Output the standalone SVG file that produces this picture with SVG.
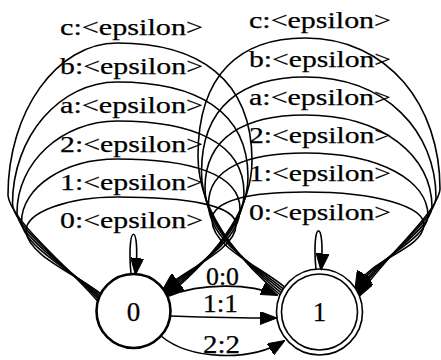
<svg xmlns="http://www.w3.org/2000/svg" width="441" height="360" viewBox="0 0 441 360">
<defs>
<style>
.e{fill:none;stroke:#000;stroke-width:1.6}
.lbl{font-family:"Liberation Serif","Times New Roman",serif;font-size:24px;fill:#000;stroke:#000;stroke-width:0.25}
.el{font-family:"Liberation Serif","Times New Roman",serif;font-size:25px;fill:#000;stroke:#000;stroke-width:0.25}
.nl{font-family:"Liberation Serif","Times New Roman",serif;font-size:27px;fill:#000;text-anchor:middle;stroke:#000;stroke-width:0.25}
</style>
<marker id="arr" markerUnits="userSpaceOnUse" viewBox="0 0 17 13" markerWidth="17" markerHeight="13" refX="16" refY="6.5" orient="auto">
<path d="M0,0 L17,6.5 L0,13 z" fill="#000" stroke="#000" stroke-width="1"/>
</marker>
</defs>
<rect width="441" height="360" fill="#fff"/>
<g id="edges">
<!-- self loops on node 0 -->
<path class="e" marker-end="url(#arr)" d="M131,274 C126,221 141,221 135.5,274"/>
<path class="e" marker-end="url(#arr)" d="M100.3,293.6 C78,274.8 28,256 26,231 C26,212.3 67,197 117,197 C188.4,197 236,205.4 236,225 C236,249 187.7,268.7 163.7,288.7"/>
<path class="e" marker-end="url(#arr)" d="M99.5,295.4 C76.1,273.4 23.5,247 21.5,222 C21.5,187.4 64.5,159 117,159 C190.8,159 240,174 240,209 C240,242.6 188.9,270.3 164.9,290.3"/>
<path class="e" marker-end="url(#arr)" d="M98.7,297.1 C74.2,271.9 19,238 17,213 C17,162.4 62,121 117,121 C193.2,121 244,142.6 244,193 C244,236.2 189.9,272 165.9,292"/>
<path class="e" marker-end="url(#arr)" d="M98,298.9 C72.4,270.4 14.5,229 12.5,204 C12.5,136.9 59.5,82 117,82 C195.6,82 248,110.5 248,177 C248,229.8 190.9,273.7 166.9,293.7"/>
<path class="e" marker-end="url(#arr)" d="M97.4,300.8 C70.6,269.1 10,220 8,195 C8,111.4 57,43 117,43 C198,43 252,78.4 252,161 C252,223.4 191.7,275.5 167.7,295.5"/>
<!-- self loops on node 1 -->
<path class="e" marker-end="url(#arr)" d="M316,269.5 C311,218 326,218 321,269.5"/>
<path class="e" marker-end="url(#arr)" d="M284.2,286.7 C260.2,266.7 212,247 212,220 C212,200.4 249.2,192 305,192 C378.8,192 424,206.9 424,225 C422,250 371.5,257.4 355.5,287.4"/>
<path class="e" marker-end="url(#arr)" d="M282.9,288.6 C258.9,268.6 208.5,240.6 208.5,204 C208.5,168.3 247.1,153 305,153 C381.3,153 428,181.4 428,216 C426,241 372.7,259.3 356.7,289.3"/>
<path class="e" marker-end="url(#arr)" d="M281.8,290.5 C257.8,270.5 205,234.2 205,188 C205,136.9 245,115 305,115 C383.7,115 432,156.4 432,207 C430,232 373.9,261.4 357.9,291.4"/>
<path class="e" marker-end="url(#arr)" d="M280.7,292.5 C256.7,272.5 201.5,227.8 201.5,172 C201.5,105.5 242.9,77 305,77 C386.2,77 436,131.5 436,198 C434,223 374.9,263.4 358.9,293.4"/>
<path class="e" marker-end="url(#arr)" d="M279.7,294.5 C255.7,274.5 198,221.4 198,156 C198,73.4 240.8,38 305,38 C388.7,38 440,105.95 440,189 C438,214 375.8,265.5 359.8,295.5"/>
<!-- 0 -> 1 -->
<path class="e" marker-end="url(#arr)" d="M169,296 C200,283 250,283 277,295"/>
<path class="e" marker-end="url(#arr)" d="M171,316 C200,317 240,318 276,318"/>
<path class="e" marker-end="url(#arr)" d="M161,336 C190,360 250,362 284,341"/>
<!-- labels -->
<text class="lbl" x="60" y="228" textLength="143" lengthAdjust="spacingAndGlyphs">0:&lt;epsilon&gt;</text>
<text class="lbl" x="60" y="190" textLength="143" lengthAdjust="spacingAndGlyphs">1:&lt;epsilon&gt;</text>
<text class="lbl" x="60" y="152" textLength="143" lengthAdjust="spacingAndGlyphs">2:&lt;epsilon&gt;</text>
<text class="lbl" x="60" y="113" textLength="143" lengthAdjust="spacingAndGlyphs">a:&lt;epsilon&gt;</text>
<text class="lbl" x="60" y="74" textLength="143" lengthAdjust="spacingAndGlyphs">b:&lt;epsilon&gt;</text>
<text class="lbl" x="60" y="35" textLength="143" lengthAdjust="spacingAndGlyphs">c:&lt;epsilon&gt;</text>
<text class="lbl" x="249" y="220" textLength="142" lengthAdjust="spacingAndGlyphs">0:&lt;epsilon&gt;</text>
<text class="lbl" x="249" y="181" textLength="142" lengthAdjust="spacingAndGlyphs">1:&lt;epsilon&gt;</text>
<text class="lbl" x="249" y="143" textLength="142" lengthAdjust="spacingAndGlyphs">2:&lt;epsilon&gt;</text>
<text class="lbl" x="249" y="105" textLength="142" lengthAdjust="spacingAndGlyphs">a:&lt;epsilon&gt;</text>
<text class="lbl" x="249" y="67" textLength="142" lengthAdjust="spacingAndGlyphs">b:&lt;epsilon&gt;</text>
<text class="lbl" x="249" y="28" textLength="142" lengthAdjust="spacingAndGlyphs">c:&lt;epsilon&gt;</text>
<text class="el" x="206" y="285" font-size="22" textLength="33" lengthAdjust="spacingAndGlyphs">0:0</text>
<text class="el" x="203" y="312" textLength="35" lengthAdjust="spacingAndGlyphs">1:1</text>
<text class="el" x="203" y="353" textLength="37" lengthAdjust="spacingAndGlyphs">2:2</text>
</g>
<g id="node0">
<circle cx="133.5" cy="311" r="37" fill="none" stroke="#000" stroke-width="2.6"/>
<text class="nl" x="133.5" y="321">0</text>
</g>
<g id="node1">
<circle cx="319.5" cy="312" r="43" fill="none" stroke="#000" stroke-width="1.6"/>
<circle cx="319.5" cy="312" r="38" fill="none" stroke="#000" stroke-width="1.6"/>
<text class="nl" x="319.5" y="321">1</text>
</g>
</svg>
